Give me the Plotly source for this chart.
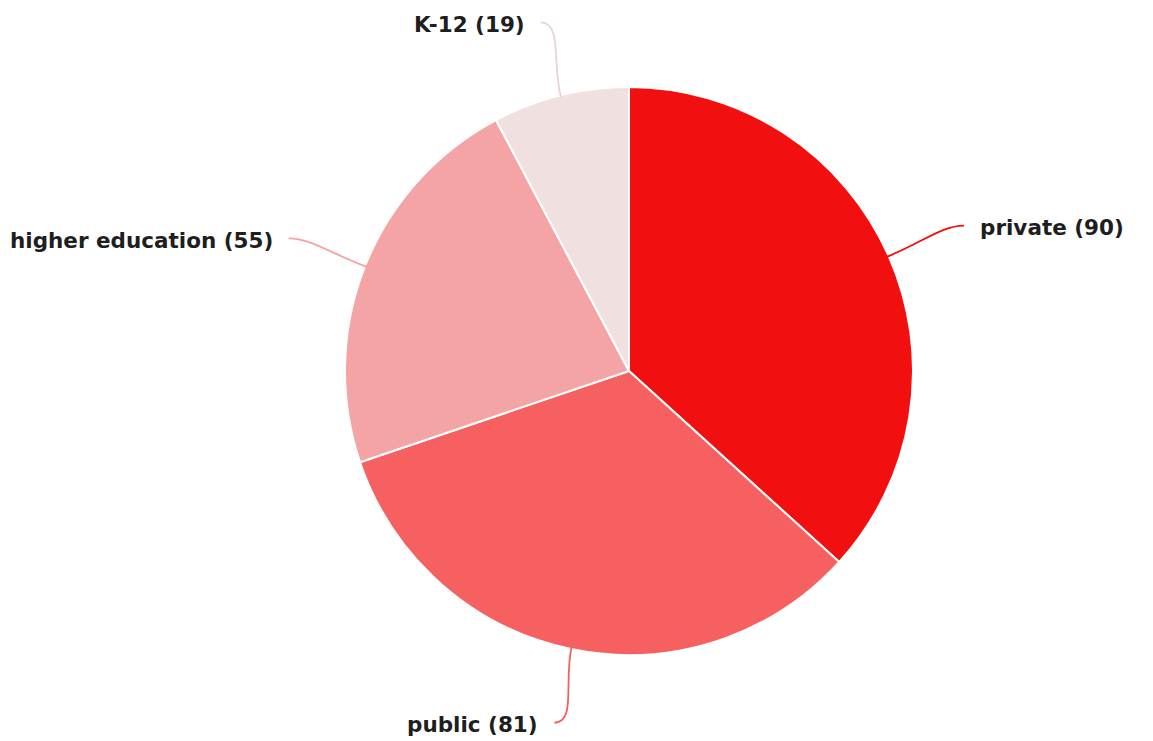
import math
import plotly.graph_objects as go

# Sectors, clockwise from 12 o'clock
categories = ["private", "public", "higher education", "K-12"]
counts = [90, 81, 55, 19]
colors = ["#F20F0F", "#F66060", "#F4A4A4", "#F1E0E0"]
leader_colors = ["#F20F0F", "#F66060", "#F4A4A4", "#EBD3D3"]

W, H = 1153, 741
CX, CY, R = 629, 371, 284           # pie centre and radius in pixels
RX, RY = 1.29 * R, 1.265 * R         # ellipse on which the leader lines end
GAP = 14                             # gap between leader end and label text
FONT = dict(family="DejaVu Sans, sans-serif", size=21.5, color="#1E1E1E")

fig = go.Figure(go.Pie(
    labels=categories,
    values=counts,
    marker=dict(colors=colors, line=dict(color="white", width=2)),
    sort=False,
    direction="clockwise",
    rotation=0,
    textinfo="none",
    hoverinfo="label+value",
    showlegend=False,
    domain=dict(x=[(CX - R) / W, (CX + R) / W],
                y=[1 - (CY + R) / H, 1 - (CY - R) / H]),
))


def px(x, y):
    """Pixel position -> paper coordinates."""
    return x / W, 1 - y / H


total = sum(counts)
start = 0.0
shapes, annotations = [], []
for name, val, lc in zip(categories, counts, leader_colors):
    span = val / total * 360
    mid = math.radians(start + span / 2)
    start += span
    s, c = math.sin(mid), math.cos(mid)
    ex, ey = CX + (R - 2) * s, CY - (R - 2) * c   # point on the rim
    ax, ay = CX + RX * s, CY - RY * c             # end of the leader
    side = 1 if s >= 0 else -1
    # leaves the rim radially, arrives horizontally at the label
    c1 = (ex + 0.45 * (ax - ex), ey + 0.45 * (ay - ey))
    c2 = (ax - side * 22, ay)
    pts = [px(*p) for p in [(ex, ey), c1, c2, (ax, ay)]]
    shapes.append(dict(
        type="path", xref="paper", yref="paper",
        path="M {0[0]},{0[1]} C {1[0]},{1[1]} {2[0]},{2[1]} {3[0]},{3[1]}".format(*pts),
        line=dict(color=lc, width=1.8),
    ))
    tx, ty = px(ax + side * GAP, ay + 2)
    annotations.append(dict(
        x=tx, y=ty, xref="paper", yref="paper",
        text=f"<b>{name} ({val})</b>", showarrow=False,
        xanchor="left" if side > 0 else "right", yanchor="middle",
        font=FONT,
    ))

fig.update_layout(
    width=W, height=H,
    margin=dict(l=0, r=0, t=0, b=0),
    paper_bgcolor="white",
    plot_bgcolor="white",
    shapes=shapes,
    annotations=annotations,
)

fig.write_html("out.html")
